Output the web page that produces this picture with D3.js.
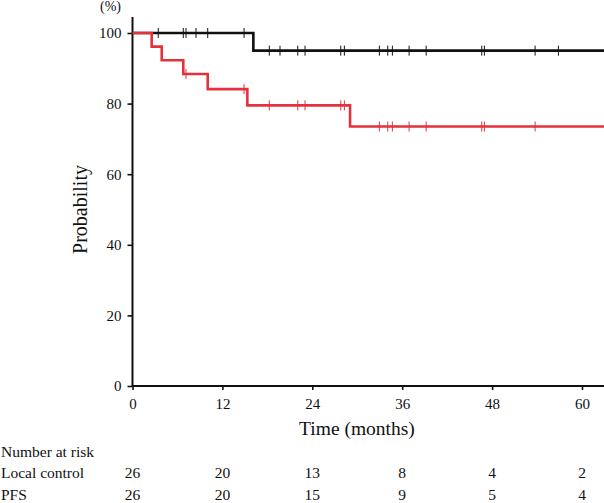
<!DOCTYPE html>
<html>
<head>
<meta charset="utf-8">
<script src="https://cdn.jsdelivr.net/npm/d3@7"></script>
<style>
  body { margin: 0; background: #fff; }
</style>
</head>
<body>
<svg id="chart" width="604" height="503"></svg>
<script>
"use strict";

// --- data ---
var xTicks = [0, 12, 24, 36, 48, 60];
var yTicks = [0, 20, 40, 60, 80, 100];

// local control (black) step curve
var lcTimes = [0, 16.13];
var lcSurv  = [100, 95.0];
var lcCensor = [3.44, 6.78, 7.14, 8.48, 10.04, 14.89, 18.26, 19.69, 22.06, 23.03,
                27.8, 28.28, 32.95, 34.07, 34.69, 36.92, 39.2, 46.62, 46.97, 53.74, 56.85];

// PFS (red) step curve
var pfsTimes = [0, 2.56, 3.9, 6.78, 10.04, 15.33, 29.04];
var pfsSurv  = [100, 96.15, 92.3, 88.4, 84.1, 79.5, 73.5];
var pfsCensor = [7.14, 14.89, 18.26, 22.06, 23.03, 27.8, 28.28, 32.95, 34.07, 34.69,
                 36.92, 39.2, 46.62, 46.97, 53.74];

var riskNames = ["Local control", "PFS"];
var riskLocal = [26, 20, 13, 8, 4, 2];
var riskPFS   = [26, 20, 15, 9, 5, 4];

var tEnd = 63.1;
var serif = "Liberation Serif";

var svg = d3.select("#chart").attr("font-family", serif);

var x = d3.scaleLinear().domain([0, 60]).range([132.5, 582]);
var y = d3.scaleLinear().domain([0, 100]).range([386, 33]);

// step points for a KM curve
function stepPts(times, surv) {
    var pts = [];
    for (var i = 0; i < times.length; i++) {
        if (i > 0) pts.push([times[i], surv[i - 1]]);
        pts.push([times[i], surv[i]]);
    }
    pts.push([tEnd, surv[surv.length - 1]]);
    return pts;
}

// level of curve at time t
function survAt(times, surv, t) {
    var s = surv[0];
    for (var i = 0; i < times.length; i++) if (times[i] <= t) s = surv[i];
    return s;
}

var line = d3.line().x(function (d) { return x(d[0]); }).y(function (d) { return y(d[1]); });

// axes
var yAxis = d3.axisLeft(y).tickValues(yTicks).tickSize(5).tickPadding(6);
var gy = svg.append("g").attr("transform", "translate(" + x(0) + ",0)").call(yAxis);
gy.attr("font-family", serif).attr("font-size", 15);
gy.select(".domain").remove();
gy.selectAll("line").attr("stroke", "#111").attr("stroke-width", 1.6);
gy.selectAll("text").attr("fill", "#111");

var xAxis = d3.axisBottom(x).tickValues(xTicks).tickSize(4).tickPadding(8);
var gx = svg.append("g").attr("transform", "translate(0," + y(0) + ")").call(xAxis);
gx.attr("font-family", serif).attr("font-size", 15);
gx.select(".domain").remove();
gx.selectAll("line").attr("stroke", "#111").attr("stroke-width", 1.6);
gx.selectAll("text").attr("fill", "#111");

svg.append("line")
    .attr("x1", x(0)).attr("x2", x(0))
    .attr("y1", 17).attr("y2", y(0) + 1)
    .attr("stroke", "#111").attr("stroke-width", 2);
svg.append("line")
    .attr("x1", x(0) - 1).attr("x2", 604)
    .attr("y1", y(0)).attr("y2", y(0))
    .attr("stroke", "#111").attr("stroke-width", 2);

// axis titles
svg.append("text")
    .attr("x", 121).attr("y", 11)
    .attr("text-anchor", "end")
    .attr("font-size", 14)
    .attr("fill", "#111")
    .text("(%)");

svg.append("text")
    .attr("transform", "translate(87," + y(50) + ") rotate(-90)")
    .attr("text-anchor", "middle")
    .attr("font-size", 20)
    .attr("fill", "#111")
    .text("Probability");

svg.append("text")
    .attr("x", 357).attr("y", 435)
    .attr("text-anchor", "middle")
    .attr("font-size", 19.5)
    .attr("fill", "#111")
    .text("Time (months)");

// curves
var curves = [
    { times: lcTimes, surv: lcSurv, censor: lcCensor, color: "#111111" },
    { times: pfsTimes, surv: pfsSurv, censor: pfsCensor, color: "#e3323c" }
];

curves.forEach(function (c) {
    svg.append("path")
        .attr("d", line(stepPts(c.times, c.surv)))
        .attr("fill", "none")
        .attr("stroke", c.color)
        .attr("stroke-width", 2.6)
        .attr("stroke-linejoin", "miter");

    svg.selectAll(null)
        .data(c.censor)
        .enter().append("line")
        .attr("x1", function (d) { return x(d); })
        .attr("x2", function (d) { return x(d); })
        .attr("y1", function (d) { return y(survAt(c.times, c.surv, d)) - 5; })
        .attr("y2", function (d) { return y(survAt(c.times, c.surv, d)) + 5; })
        .attr("stroke", c.color)
        .attr("stroke-width", 1);
});

// number at risk table
svg.append("text")
    .attr("x", 1).attr("y", 457)
    .attr("font-size", 15.5)
    .attr("fill", "#111")
    .text("Number at risk");

[riskLocal, riskPFS].forEach(function (row, i) {
    var yy = 478 + i * 22;
    svg.append("text")
        .attr("x", 1).attr("y", yy)
        .attr("font-size", 15.5)
        .attr("fill", "#111")
        .text(riskNames[i]);
    svg.selectAll(null)
        .data(row)
        .enter().append("text")
        .attr("x", function (d, j) { return x(xTicks[j]); })
        .attr("y", yy)
        .attr("text-anchor", "middle")
        .attr("font-size", 15.5)
        .attr("fill", "#111")
        .text(function (d) { return d; });
});
</script>
</body>
</html>
